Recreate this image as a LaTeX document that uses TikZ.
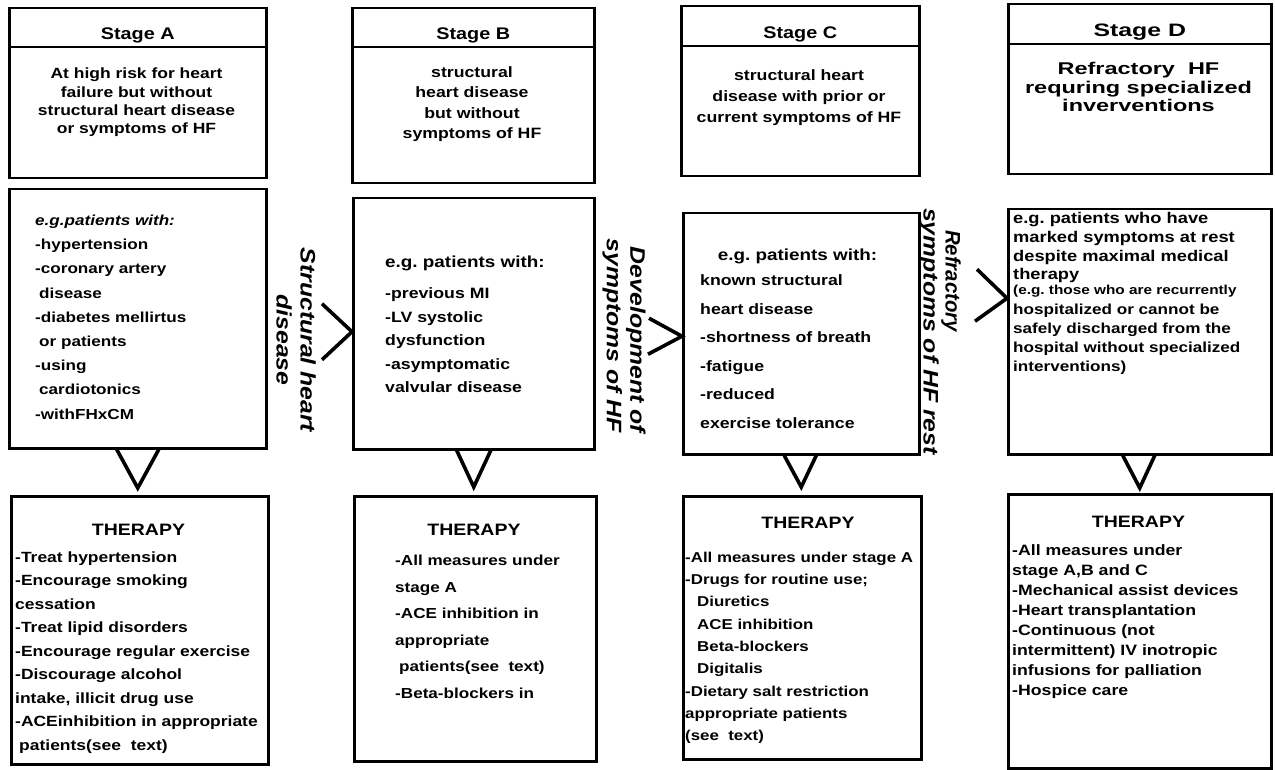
\documentclass[tikz,border=0pt]{standalone}
\usepackage{fontspec}
\usepackage{graphicx}
\setmainfont{Liberation Sans}[FakeStretch=1.18]
\newfontfamily\hfw{Liberation Sans}[FakeStretch=1.38]
\usetikzlibrary{calc}
\newcommand\fsz[2]{\fontsize{#1}{#2}\selectfont}
\tikzset{
  box/.style={draw, line width=2.5pt, inner sep=0pt, anchor=north west},
  txt/.style={inner sep=0pt, align=left, anchor=north west},
  ctr/.style={inner sep=0pt, align=center, anchor=north},
  ttl/.style={inner sep=0pt, anchor=base, font={\bfseries\fsz{16.8}{19}}},
  chev/.style={line width=3.6pt, line join=miter, line cap=butt},
  rlab/.style={inner sep=0pt, rotate=-90},
}
\begin{document}
\begin{tikzpicture}[x=1pt, y=-1pt]
\useasboundingbox (0,0) rectangle (1275,770);
\fill[white] (0,0) rectangle (1275,770);

% ---------- boxes ----------
\node[box, minimum width=257, minimum height=39]  (sA) at (8,7) {};
\node[box, minimum width=257, minimum height=131] (dA) at (8,46) {};
\node[box, minimum width=257, minimum height=259] (mA) at (8,188) {};
\node[box, minimum width=257, minimum height=268] (tA) at (10,495) {};

\node[box, minimum width=242, minimum height=39]  (sB) at (351,7) {};
\node[box, minimum width=242, minimum height=136] (dB) at (351,46) {};
\node[box, minimum width=241, minimum height=251] (mB) at (352,197) {};
\node[box, minimum width=242, minimum height=265] (tB) at (353,495) {};

\node[box, minimum width=238, minimum height=40]  (sC) at (680,5) {};
\node[box, minimum width=238, minimum height=130] (dC) at (680,45) {};
\node[box, minimum width=236, minimum height=241] (mC) at (682,212) {};
\node[box, minimum width=238, minimum height=263] (tC) at (682,495) {};

\node[box, minimum width=263, minimum height=40]  (sD) at (1007,3) {};
\node[box, minimum width=263, minimum height=130] (dD) at (1007,43) {};
\node[box, minimum width=263, minimum height=245] (mD) at (1007,208) {};
\node[box, minimum width=263, minimum height=274] (tD) at (1007,493) {};

% ---------- titles ----------
\node[ttl] (sAt) at ($(sA.south)+(0,-9)$) {Stage A};
\node[ttl] (sBt) at ($(sB.south)+(0,-9)$) {Stage B};
\node[ttl] (sCt) at ($(sC.south)+(0,-9)$) {Stage C};
\node[ttl, font={\hfw\bfseries\fsz{18}{19}}] (sDt) at ($(sD.south)+(0,-9)$) {Stage D};

% ---------- stage descriptions ----------
\node[ctr, font={\bfseries\fsz{14.8}{18.3}}] (dAt) at (136.5,67.8)
  {At high risk for heart\\failure but without\\structural heart disease\\or symptoms of HF};
\node[ctr, font={\bfseries\fsz{15}{20.3}}] (dBt) at (472,66.6)
  {structural\\heart disease\\but without\\symptoms of HF};
\node[ctr, font={\bfseries\fsz{15}{21}}] (dCt) at (799,69.6)
  {structural heart\\disease with prior or\\current symptoms of HF};
\node[ctr, font={\hfw\bfseries\fsz{17}{18.8}}] (dDt) at (1138.5,61.8)
  {Refractory\ \ HF\\requring specialized\\inverventions};

% ---------- patient examples ----------
\node[txt, font={\bfseries\fsz{14.5}{24.2}}] (mAt) at (35,214.8)
  {{\itshape e.g.patients with:}\\-hypertension\\-coronary artery\\\hspace*{4pt}disease\\-diabetes mellirtus\\\hspace*{4pt}or patients\\-using\\\hspace*{4pt}cardiotonics\\-withFHxCM};

\node[txt, font={\bfseries\fsz{16}{20}}] (mBh) at (385,256) {e.g.\ patients with:};
\node[txt, font={\bfseries\fsz{15}{23.5}}] (mBt) at (385,287.6)
  {-previous MI\\-LV systolic\\dysfunction\\-asymptomatic\\valvular disease};

\node[ctr, font={\bfseries\fsz{16}{20}}] (mCh) at (797.5,249.2) {e.g.\ patients with:};
\node[txt, font={\bfseries\fsz{15}{28.5}}] (mCt) at (700,274.6)
  {known structural\\heart disease\\-shortness of breath\\-fatigue\\-reduced\\exercise tolerance};

\node[txt, font={\bfseries\fsz{15.5}{18.6}}] (mDa) at (1013,212.4)
  {e.g.\ patients who have\\marked symptoms at rest\\despite maximal medical\\therapy};
\node[txt, font={\bfseries\fsz{14.5}{19.2}}] (mDb) at (1013,285.2)
  {{\fsz{13}{19.2}(e.g.\ those who are recurrently}\\hospitalized or cannot be\\safely discharged from the\\hospital without specialized\\interventions)};

% ---------- therapy ----------
\node[ctr, font={\bfseries\fsz{16.5}{20}}] (tAh) at (138.5,524) {THERAPY};
\node[txt, font={\bfseries\fsz{14.8}{23.5}}] (tAt) at (15,551.3)
  {-Treat hypertension\\-Encourage smoking\\cessation\\-Treat lipid disorders\\-Encourage regular exercise\\-Discourage alcohol\\intake, illicit drug use\\-ACEinhibition in appropriate\\\hspace*{4pt}patients(see\ \ text)};

\node[ctr, font={\bfseries\fsz{16.5}{20}}] (tBh) at (474,524) {THERAPY};
\node[txt, font={\bfseries\fsz{14.5}{26.5}}] (tBt) at (395,554.8)
  {-All measures under\\stage A\\-ACE inhibition in\\appropriate\\\hspace*{4pt}patients(see\ \ text)\\-Beta-blockers in};

\node[ctr, font={\bfseries\fsz{16.5}{20}}] (tCh) at (808,517) {THERAPY};
\node[txt, font={\bfseries\fsz{14.3}{22.3}}] (tCt) at (685,551.8)
  {-All measures under stage A\\-Drugs for routine use;\\\hspace*{12pt}Diuretics\\\hspace*{12pt}ACE inhibition\\\hspace*{12pt}Beta-blockers\\\hspace*{12pt}Digitalis\\-Dietary salt restriction\\appropriate patients\\(see\ \ text)};

\node[ctr, font={\bfseries\fsz{16.5}{20}}] (tDh) at (1138.5,516) {THERAPY};
\node[txt, font={\bfseries\fsz{15}{20}}] (tDt) at (1012,544.6)
  {-All measures under\\stage A,B and C\\-Mechanical assist devices\\-Heart transplantation\\-Continuous (not\\intermittent) IV inotropic\\infusions for palliation\\-Hospice care};

% ---------- rotated transition labels ----------
\node[rlab, align=center, font={\bfseries\itshape\fsz{21}{24}}] (lAB) at (296,340)
  {Structural heart\\disease};
\node[rlab, align=right, anchor=east, font={\bfseries\itshape\fsz{21}{23.5}}] (lBC) at (624,433)
  {Development of\\symptoms of HF};
\node[rlab, align=left, anchor=west, font={\bfseries\itshape\fsz{21}{22}}] (lCD) at (940,208)
  {\hspace*{22pt}\scalebox{0.82}[1]{Refractory}\\symptoms of HF rest};

% ---------- downward chevrons ----------
\draw[chev] ($(mA.south)+(-21,0)$) -- ($(mA.south |- tA.north)+(0,-7)$) -- ($(mA.south)+(21,0)$);
\draw[chev] ($(mB.south)+(-17,0)$) -- ($(mB.south |- tB.north)+(0,-8)$) -- ($(mB.south)+(17,0)$);
\draw[chev] ($(mC.south)+(-17,0)$) -- ($(mC.south |- tC.north)+(0,-8)$) -- ($(mC.south)+(15,0)$);
\draw[chev] ($(mD.south)+(-17,0)$) -- ($(mD.south |- tD.north)+(0,-5)$) -- ($(mD.south)+(15,0)$);

% ---------- sideways chevrons ----------
\draw[chev] ($(mB.west)+(-30,-20)$) -- ($(mB.west)+(0,8)$) -- ($(mB.west)+(-30,36)$);
\draw[chev] ($(mC.west)+(-33,-15.5)$) -- ($(mC.west)+(0,2.5)$) -- ($(mC.west)+(-34,20.5)$);
\draw[chev] ($(mD.west)+(-30,-62.5)$) -- ($(mD.west)+(0,-33.5)$) -- ($(mD.west)+(-32,-10.5)$);
\end{tikzpicture}
\end{document}
